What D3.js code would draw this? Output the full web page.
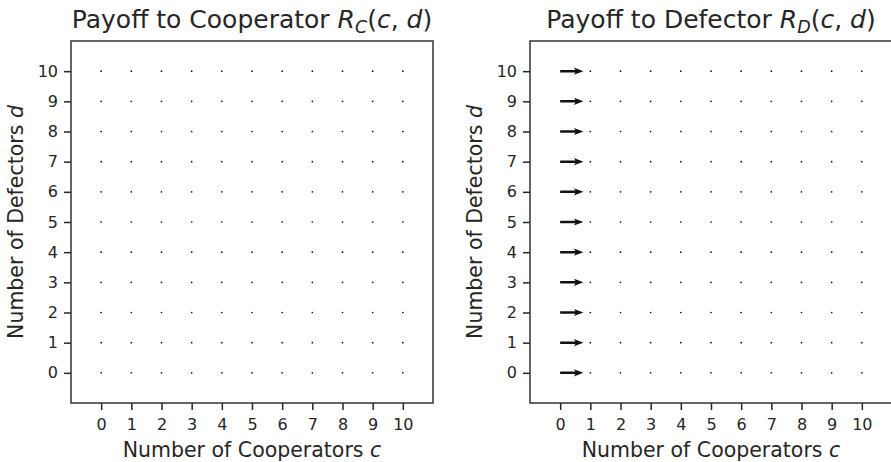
<!DOCTYPE html>
<html>
<head>
<meta charset="utf-8">
<script src="https://cdn.jsdelivr.net/npm/d3@7"></script>
<style>
  body { margin: 0; background: #fff; }
  text { font-family: "DejaVu Sans", sans-serif; fill: #262626; }
</style>
</head>
<body>
<div id="chart-area"></div>
<script>
// grid of states (number of cooperators, number of defectors)
const cooperators = [0, 1, 2, 3, 4, 5, 6, 7, 8, 9, 10]
const defectors = [0, 1, 2, 3, 4, 5, 6, 7, 8, 9, 10]
const tickLabels = ["0", "1", "2", "3", "4", "5", "6", "7", "8", "9", "10"]

// horizontal component of each arrow, one row per d, one column per c
const coopU = [
  [0, 0, 0, 0, 0, 0, 0, 0, 0, 0, 0],
  [0, 0, 0, 0, 0, 0, 0, 0, 0, 0, 0],
  [0, 0, 0, 0, 0, 0, 0, 0, 0, 0, 0],
  [0, 0, 0, 0, 0, 0, 0, 0, 0, 0, 0],
  [0, 0, 0, 0, 0, 0, 0, 0, 0, 0, 0],
  [0, 0, 0, 0, 0, 0, 0, 0, 0, 0, 0],
  [0, 0, 0, 0, 0, 0, 0, 0, 0, 0, 0],
  [0, 0, 0, 0, 0, 0, 0, 0, 0, 0, 0],
  [0, 0, 0, 0, 0, 0, 0, 0, 0, 0, 0],
  [0, 0, 0, 0, 0, 0, 0, 0, 0, 0, 0],
  [0, 0, 0, 0, 0, 0, 0, 0, 0, 0, 0]
]
const defU = [
  [0.77, 0, 0, 0, 0, 0, 0, 0, 0, 0, 0],
  [0.77, 0, 0, 0, 0, 0, 0, 0, 0, 0, 0],
  [0.77, 0, 0, 0, 0, 0, 0, 0, 0, 0, 0],
  [0.77, 0, 0, 0, 0, 0, 0, 0, 0, 0, 0],
  [0.77, 0, 0, 0, 0, 0, 0, 0, 0, 0, 0],
  [0.77, 0, 0, 0, 0, 0, 0, 0, 0, 0, 0],
  [0.77, 0, 0, 0, 0, 0, 0, 0, 0, 0, 0],
  [0.77, 0, 0, 0, 0, 0, 0, 0, 0, 0, 0],
  [0.77, 0, 0, 0, 0, 0, 0, 0, 0, 0, 0],
  [0.77, 0, 0, 0, 0, 0, 0, 0, 0, 0, 0],
  [0.77, 0, 0, 0, 0, 0, 0, 0, 0, 0, 0]
]

const panels = [
  { left: 71, sub: "C", lead: "Payoff to Cooperator ", u: coopU },
  { left: 530, sub: "D", lead: "Payoff to Defector ", u: defU }
]

const W = 891, H = 462
const plotTop = 41, size = 362

let svg = d3.select("#chart-area").append("svg")
  .attr("width", W)
  .attr("height", H)

panels.forEach(p => {
  let x = d3.scaleLinear().domain([-1, 11]).range([p.left, p.left + size])
  let y = d3.scaleLinear().domain([-1, 11]).range([plotTop + size, plotTop])

  let g = svg.append("g")

  // frame
  g.append("rect")
    .attr("x", p.left).attr("y", plotTop)
    .attr("width", size).attr("height", size)
    .attr("fill", "none")
    .attr("stroke", "#333")
    .attr("stroke-width", 1.5)

  // axes
  let xAxis = g.append("g")
    .attr("transform", `translate(0,${plotTop + size})`)
    .call(d3.axisBottom(x).tickValues(cooperators).tickFormat((d, i) => tickLabels[i]).tickSize(7).tickPadding(9))
  let yAxis = g.append("g")
    .attr("transform", `translate(${p.left},0)`)
    .call(d3.axisLeft(y).tickValues(defectors).tickFormat((d, i) => tickLabels[i]).tickSize(7).tickPadding(6))
  ;[xAxis, yAxis].forEach(a => {
    a.select(".domain").remove()
    a.selectAll(".tick line").attr("stroke", "#262626").attr("stroke-width", 1.5)
    a.selectAll(".tick text").attr("font-size", 16).attr("fill", "#262626")
      .attr("font-family", "DejaVu Sans")
  })

  // arrows / dots
  let cells = []
  defectors.forEach((d, j) => {
    cooperators.forEach((c, i) => {
      cells.push({ c: c, d: d, u: p.u[j][i] })
    })
  })

  g.selectAll("circle.dot")
    .data(cells.filter(e => e.u === 0))
    .enter()
    .append("circle")
      .attr("class", "dot")
      .attr("cx", e => x(e.c))
      .attr("cy", e => y(e.d))
      .attr("r", 0.85)
      .attr("fill", "#111")

  g.selectAll("path.arrow")
    .data(cells.filter(e => e.u !== 0))
    .enter()
    .append("path")
      .attr("class", "arrow")
      .attr("fill", "#111")
      .attr("d", e => {
        let x0 = x(e.c), x1 = x(e.c + e.u), yy = y(e.d)
        let hl = 8, hw = 3.6, sw = 1.25
        return `M${x0},${yy - sw} L${x1 - hl},${yy - sw} L${x1 - hl - 1.5},${yy - hw} L${x1},${yy} ` +
          `L${x1 - hl - 1.5},${yy + hw} L${x1 - hl},${yy + sw} L${x0},${yy + sw} Z`
      })

  // title
  let cx = p.left + size / 2
  let t = g.append("text")
    .attr("x", cx).attr("y", 28)
    .attr("text-anchor", "middle")
    .attr("font-size", 25)
  t.append("tspan").text(p.lead)
  t.append("tspan").attr("font-style", "italic").text("R")
  t.append("tspan").attr("font-style", "italic").attr("font-size", 17.5).attr("dy", 4.5).text(p.sub)
  t.append("tspan").attr("dy", -4.5).text("(")
  t.append("tspan").attr("font-style", "italic").text("c")
  t.append("tspan").text(", ")
  t.append("tspan").attr("font-style", "italic").text("d")
  t.append("tspan").text(")")

  // x label
  let xl = g.append("text")
    .attr("x", cx).attr("y", 457)
    .attr("text-anchor", "middle")
    .attr("font-size", 20.5)
  xl.append("tspan").text("Number of Cooperators ")
  xl.append("tspan").attr("font-style", "italic").text("c")

  // y label
  let yl = g.append("text")
    .attr("transform", `translate(${p.left - 48},${plotTop + size / 2}) rotate(-90)`)
    .attr("text-anchor", "middle")
    .attr("font-size", 20.5)
  yl.append("tspan").text("Number of Defectors ")
  yl.append("tspan").attr("font-style", "italic").text("d")
})
</script>
</body>
</html>
